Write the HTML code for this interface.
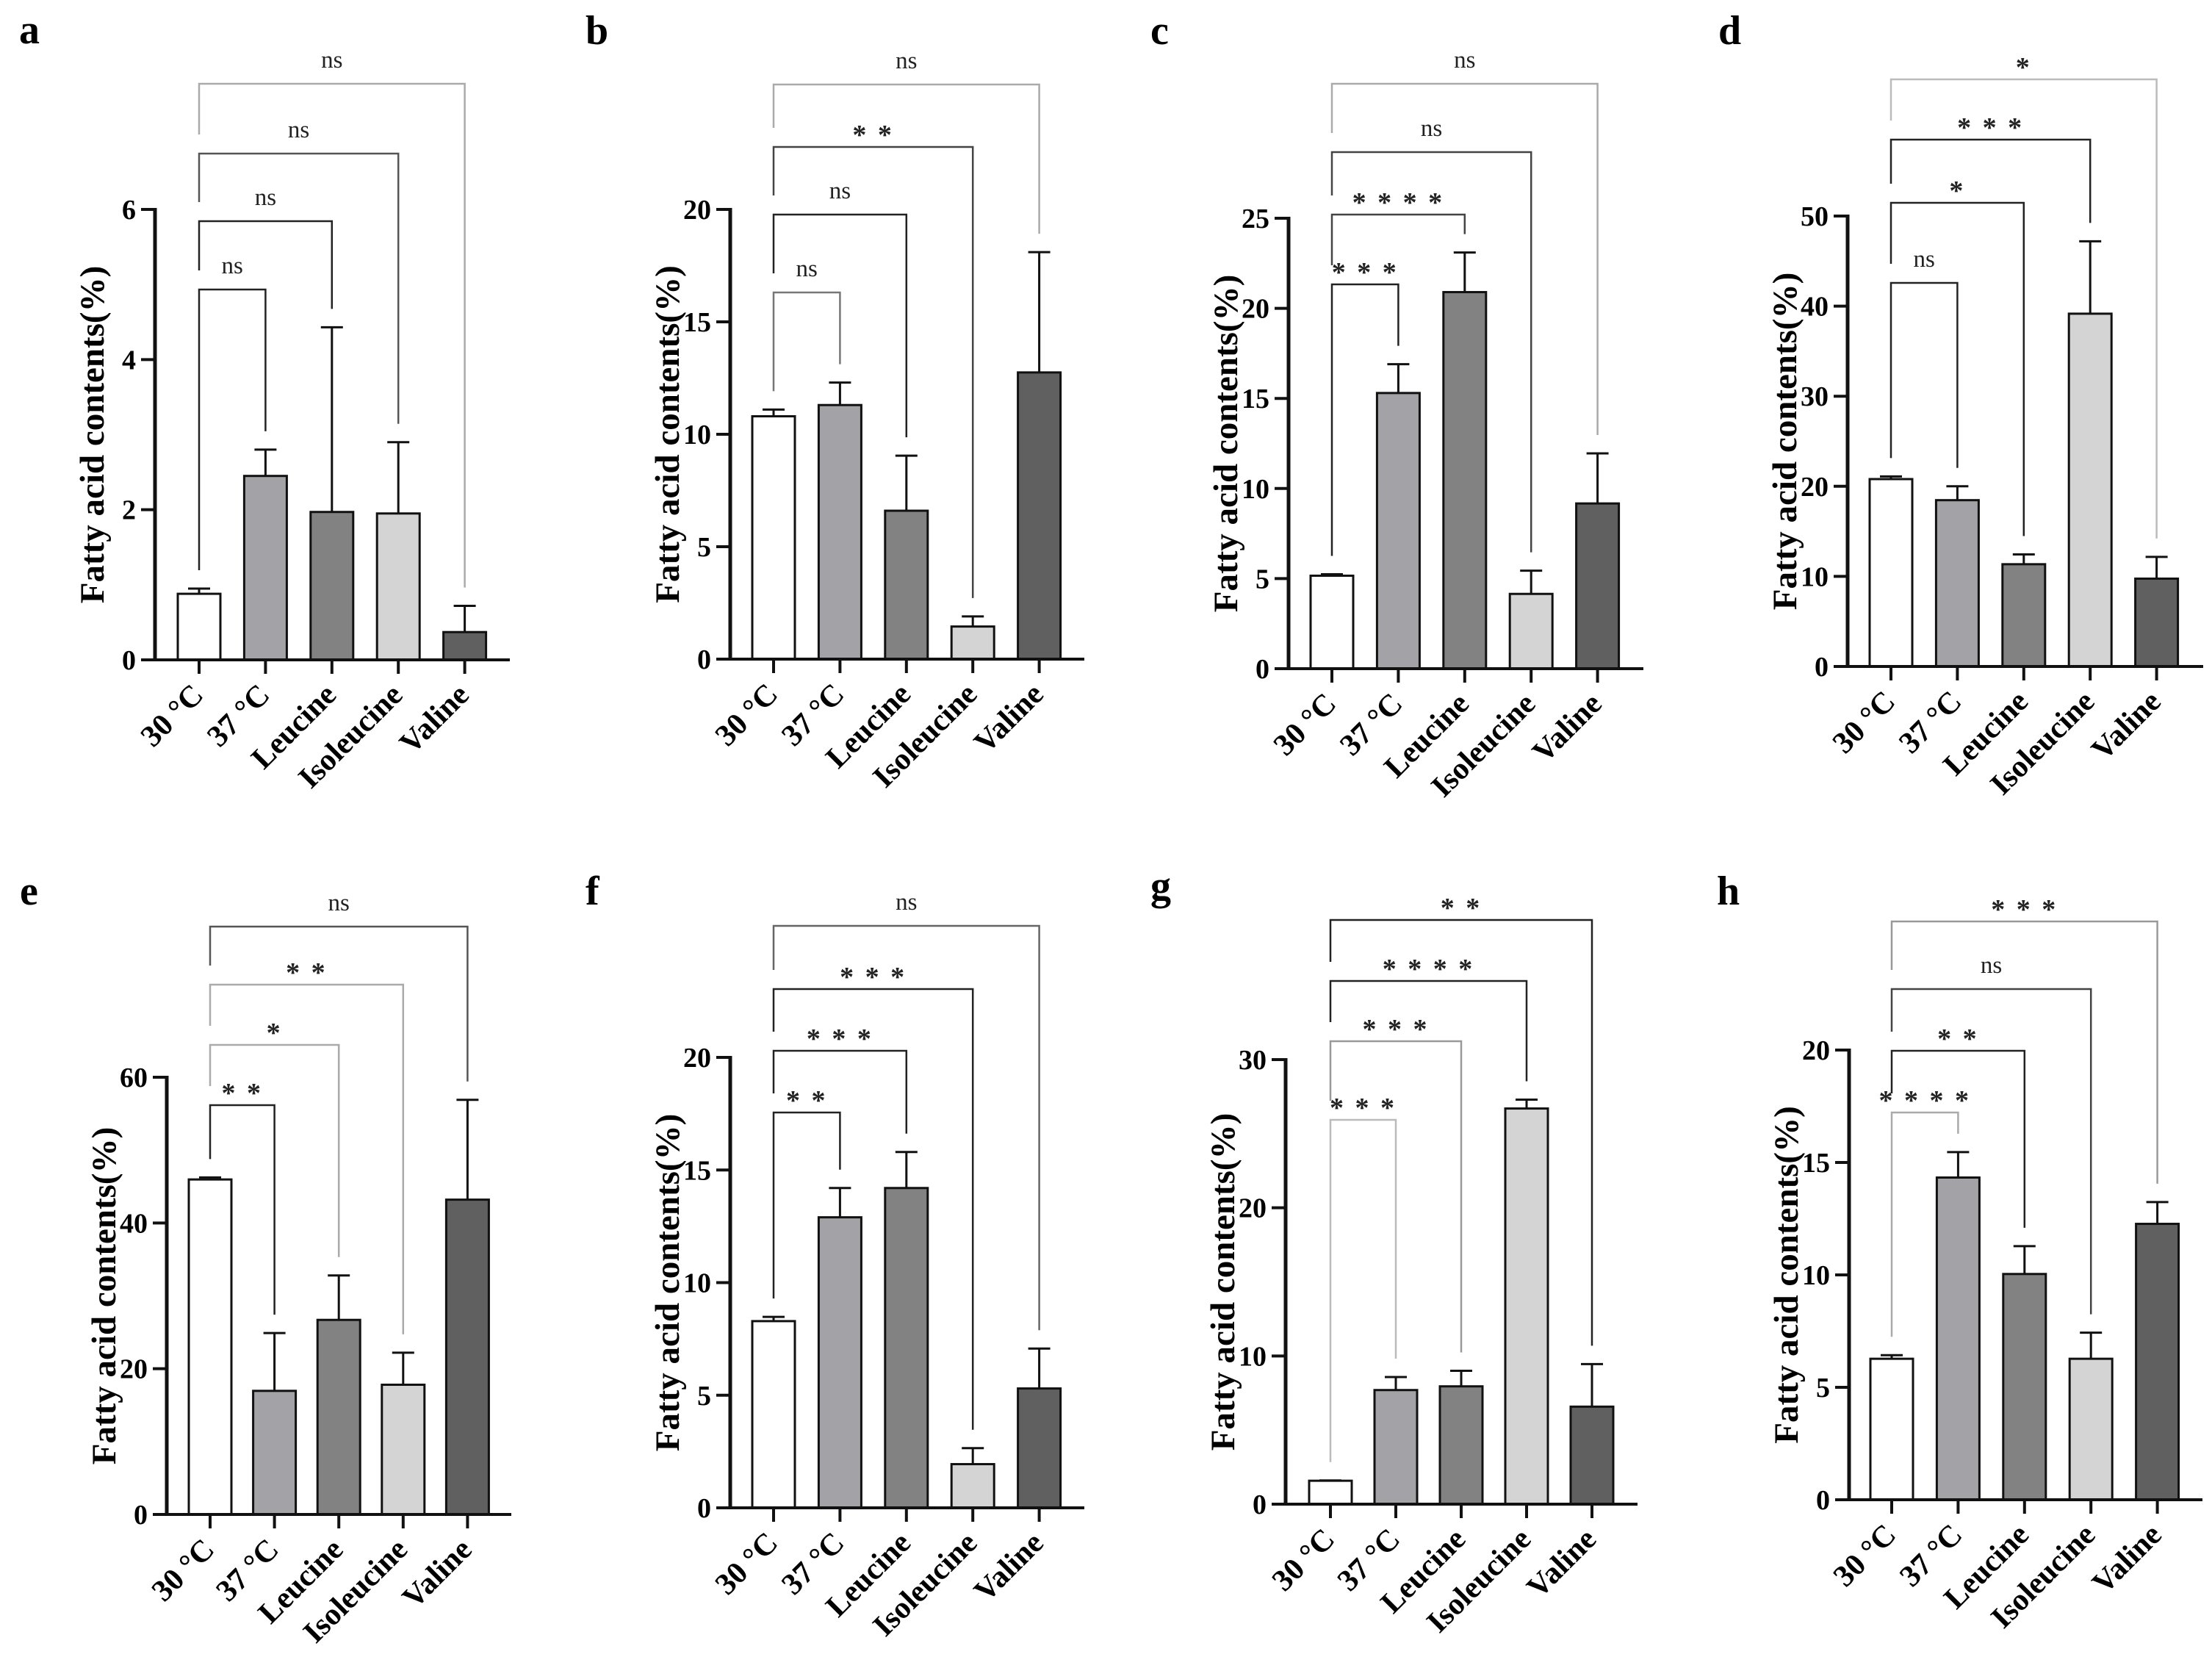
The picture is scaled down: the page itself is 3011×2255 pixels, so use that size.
<!DOCTYPE html>
<html><head><meta charset="utf-8"><style>
html,body{margin:0;padding:0;background:#fff;}
svg{display:block;}
text{font-family:"Liberation Serif",serif;}
</style></head><body>
<svg id="fig" width="3011" height="2255" viewBox="0 0 3011 2255" xmlns="http://www.w3.org/2000/svg"></svg>
<script>
// ---- data ----
const categories = ["30 °C","37 °C","Leucine","Isoleucine","Valine"];
const aMeans=[0.88,2.45,1.97,1.95,0.37], aErr=[0.95,2.8,4.43,2.9,0.72], aSig=["ns","ns","ns","ns"], aTicks=[0,2,4,6];
const bMeans=[10.8,11.3,6.6,1.45,12.75], bErr=[11.1,12.3,9.05,1.9,18.1], bSig=["ns","ns","* *","ns"], bTicks=[0,5,10,15,20];
const cMeans=[5.16,15.3,20.9,4.15,9.17], cErr=[5.24,16.9,23.1,5.44,11.95], cSig=["* * *","* * * *","ns","ns"], cTicks=[0,5,10,15,20,25];
const dMeans=[20.8,18.46,11.35,39.16,9.75], dErr=[21.1,20.0,12.44,47.2,12.16], dSig=["ns","*","* * *","*"], dTicks=[0,10,20,30,40,50];
const eMeans=[45.97,16.96,26.7,17.8,43.2], eErr=[46.25,24.9,32.8,22.2,56.9], eSig=["* *","*","* *","ns"], eTicks=[0,20,40,60];
const fMeans=[8.29,12.9,14.2,1.94,5.3], fErr=[8.48,14.2,15.8,2.65,7.07], fSig=["* *","* * *","* * *","ns"], fTicks=[0,5,10,15,20];
const gMeans=[1.58,7.7,7.95,26.7,6.58], gErr=[1.6,8.58,9.0,27.3,9.45], gSig=["* * *","* * *","* * * *","* *"], gTicks=[0,10,20,30];
const hMeans=[6.27,14.33,10.04,6.27,12.27], hErr=[6.43,15.46,11.28,7.43,13.24], hSig=["* * * *","* *","ns","* * *"], hTicks=[0,5,10,15,20];

// ---- layout (pixels) ----
const fills=["#ffffff","#a3a3a7","#828282","#d4d4d4","#606060"];
const panels=[
 {id:"a",means:aMeans,err:aErr,sig:aSig,ticks:aTicks,ax:211,top:285,zero:898,c0:271,sp:90.4,end:694,lx:26,ly:59,levels:[394,301,209,114],bc:["#222","#222","#555","#aaa"]},
 {id:"b",means:bMeans,err:bErr,sig:bSig,ticks:bTicks,ax:994,top:285,zero:897,c0:1053,sp:90.4,end:1476,lx:797,ly:60,levels:[398,292,200,115],bc:["#777","#222","#444","#aaa"]},
 {id:"c",means:cMeans,err:cErr,sig:cSig,ticks:cTicks,ax:1754,top:297,zero:910,c0:1813,sp:90.4,end:2237,lx:1566,ly:60,levels:[387,292,207,114],bc:["#222","#444","#444","#aaa"]},
 {id:"d",means:dMeans,err:dErr,sig:dSig,ticks:dTicks,ax:2515,top:294,zero:907,c0:2574,sp:90.4,end:2999,lx:2339,ly:60,levels:[385,276,190,108],bc:["#222","#222","#222","#bbb"]},
 {id:"e",means:eMeans,err:eErr,sig:eSig,ticks:eTicks,ax:227,top:1466,zero:2061,c0:286,sp:87.6,end:696,lx:27,ly:1231,levels:[1504,1422,1340,1261],bc:["#222","#aaa","#aaa","#555"]},
 {id:"f",means:fMeans,err:fErr,sig:fSig,ticks:fTicks,ax:994,top:1439,zero:2052,c0:1053,sp:90.4,end:1476,lx:797,ly:1231,levels:[1514,1430,1346,1260],bc:["#222","#222","#222","#666"]},
 {id:"g",means:gMeans,err:gErr,sig:gSig,ticks:gTicks,ax:1750,top:1442,zero:2047,c0:1811,sp:89,end:2229,lx:1566,ly:1224,levels:[1524,1417,1335,1252],bc:["#bbb","#999","#222","#222"]},
 {id:"h",means:hMeans,err:hErr,sig:hSig,ticks:hTicks,ax:2517,top:1429,zero:2041,c0:2575,sp:90.4,end:2998,lx:2337,ly:1231,levels:[1514,1430,1346,1254],bc:["#aaa","#222","#444","#999"]}
];
const NS="http://www.w3.org/2000/svg";
const svg=document.getElementById("fig");
function mk(tag,attrs,parent,txt){const e=document.createElementNS(NS,tag);for(const k in attrs)e.setAttribute(k,attrs[k]);if(txt!==undefined)e.textContent=txt;(parent||svg).appendChild(e);return e;}
panels.forEach(p=>{
  const g=mk("g",{});
  
  
  const max=p.ticks[p.ticks.length-1];
  const y=v=>p.zero-(p.zero-p.top)*v/max;
  const x=i=>p.c0+i*p.sp;
  const lt=mk("text",{x:p.lx,y:p.ly,"font-size":56,"font-weight":"bold"},g,p.id);
  
  
  p.means.forEach((m,i)=>{
    const el=mk("line",{x1:x(i),x2:x(i),y1:y(m),y2:y(p.err[i]),stroke:"#111","stroke-width":3},g);
    
    
    const cap=mk("line",{x1:x(i)-15,x2:x(i)+15,y1:y(p.err[i]),y2:y(p.err[i]),stroke:"#111","stroke-width":3},g);
    
    
    const r=mk("rect",{x:x(i)-29,y:y(m),width:58,height:p.zero-y(m),fill:fills[i],stroke:"#111","stroke-width":3},g);
    
    
    const tk=mk("line",{x1:x(i),x2:x(i),y1:p.zero,y2:p.zero+19,stroke:"#111","stroke-width":4},g);
    
    
    const tx=x(i)+8, ty=p.zero+50;
    const lab=mk("text",{x:tx,y:ty,"font-size":42,"font-weight":"bold","text-anchor":"end",transform:`rotate(-45 ${tx} ${ty})`},g,categories[i]);
    
    
  });
  const ya=mk("line",{x1:p.ax,x2:p.ax,y1:p.top-2,y2:p.zero+2,stroke:"#111","stroke-width":5},g);
  
  
  const xa=mk("line",{x1:p.ax-19,x2:p.end,y1:p.zero,y2:p.zero,stroke:"#111","stroke-width":4},g);
  
  
  p.ticks.forEach(t=>{
    const tl=mk("line",{x1:p.ax-19,x2:p.ax,y1:y(t),y2:y(t),stroke:"#111","stroke-width":4},g);
    
    
    const tt=mk("text",{x:p.ax-26,y:y(t)+13,"font-size":38,"font-weight":"bold","text-anchor":"end"},g,t);
    
    
  });
  const cy=(p.top+p.zero)/2, cx=p.ax-70;
  const yl=mk("text",{x:cx,y:cy,"font-size":47,"font-weight":"bold","text-anchor":"middle",transform:`rotate(-90 ${cx} ${cy})`},g,"Fatty acid contents(%)");
  
  
  p.levels.forEach((lv,k)=>{
    const j=k+1;
    const lx=x(0), rx=x(j);
    const leftEnd = k===0 ? y(p.err[0])-25 : p.levels[k-1]-26;
    const rightEnd = y(p.err[j])-25;
    const pth=mk("path",{d:`M${lx},${leftEnd} L${lx},${lv} L${rx},${lv} L${rx},${rightEnd}`,fill:"none",stroke:p.bc[k],"stroke-width":2.5},g);
    
    
    const s=p.sig[k], isNs=s==="ns";
    const st=mk("text",{x:(lx+rx)/2,y:isNs?lv-22:lv-4,"font-size":isNs?33:38,"font-weight":isNs?"normal":"bold","text-anchor":"middle","letter-spacing":isNs?0:3,fill:"#222"},g,s);
    
    
  });
});
</script>
</body></html>
